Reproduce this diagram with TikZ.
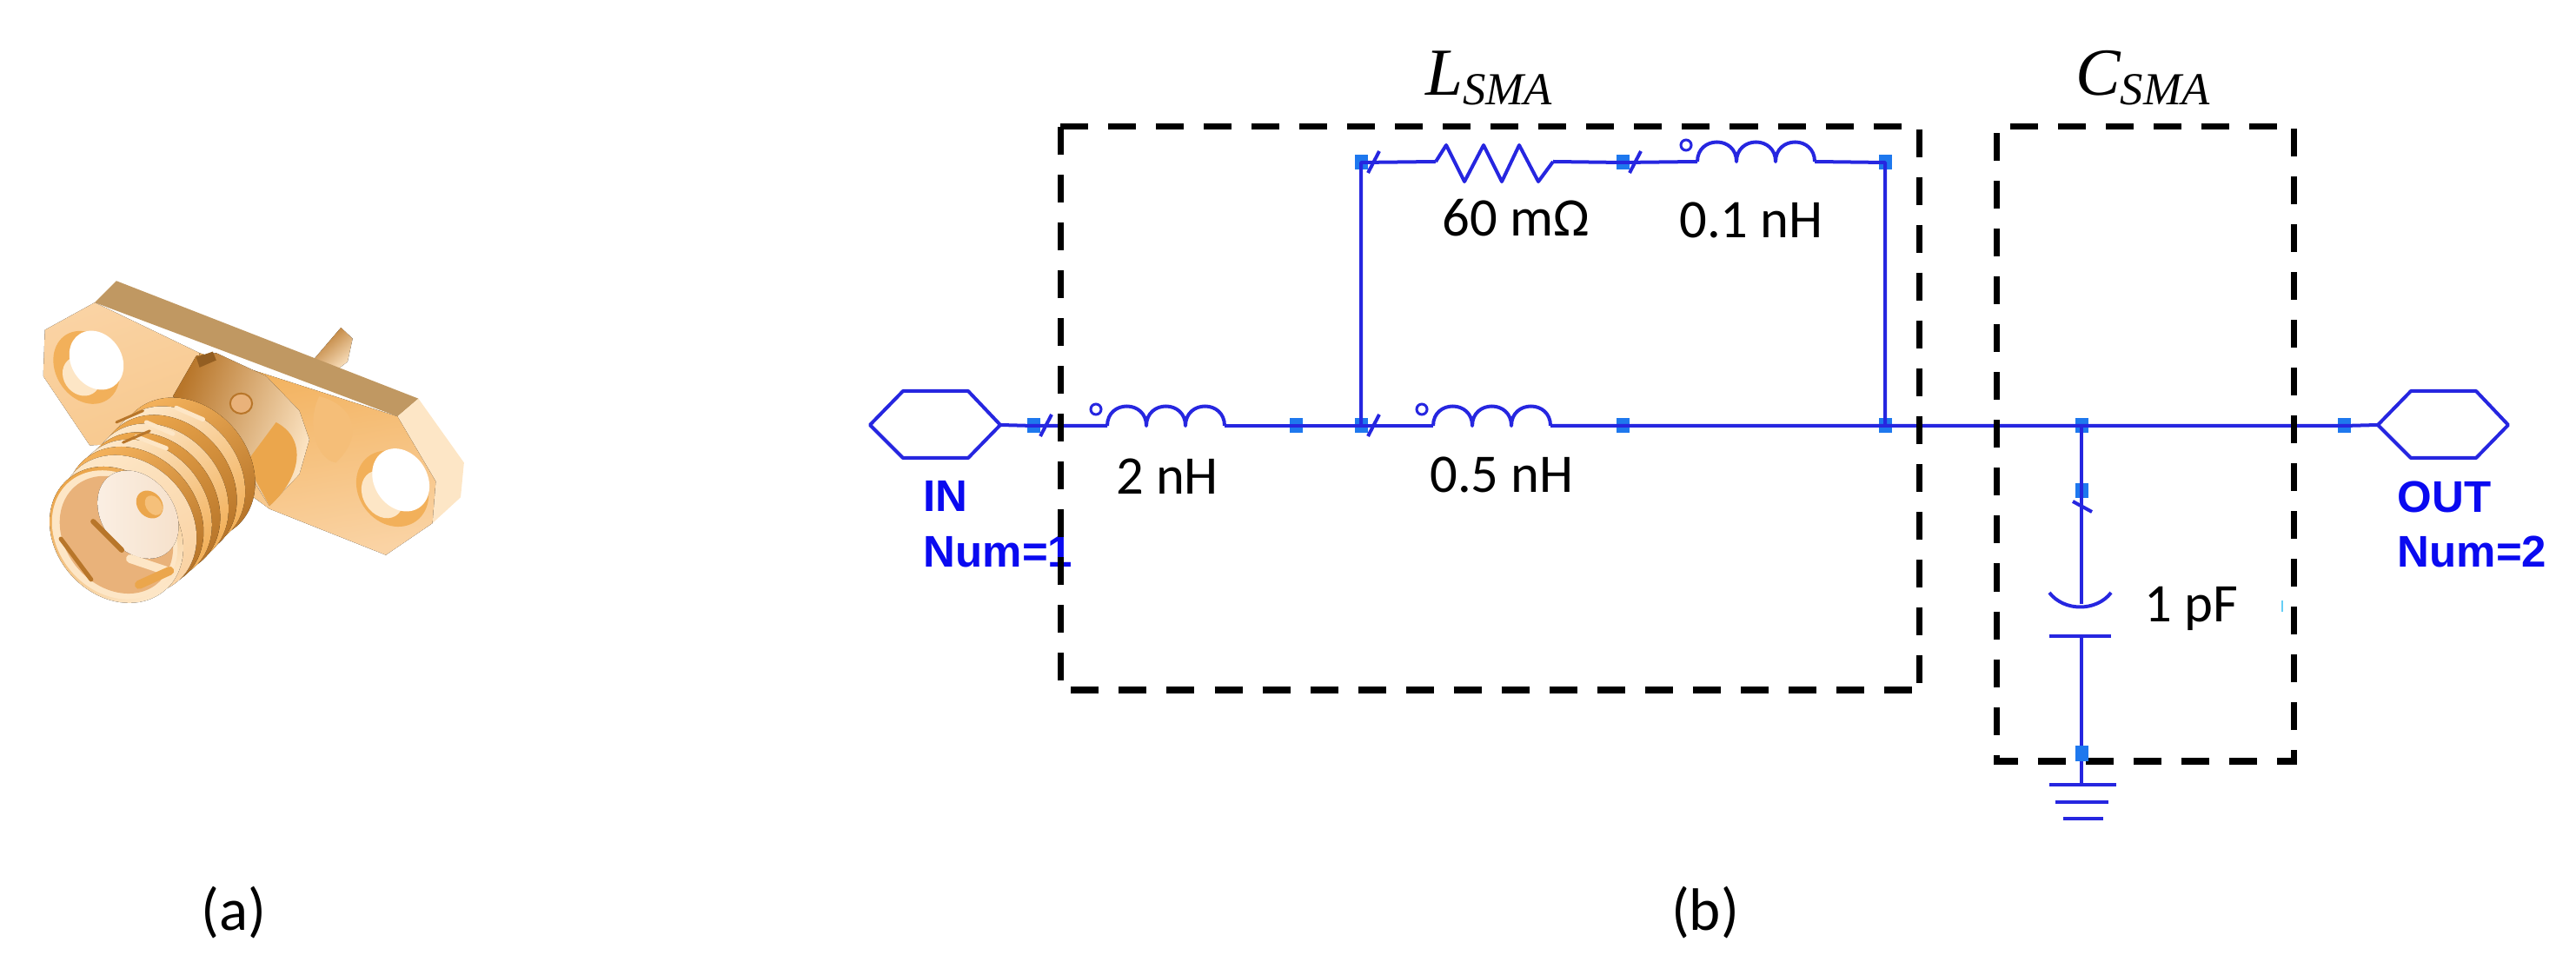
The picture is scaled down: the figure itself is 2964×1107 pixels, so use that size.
\documentclass[tikz,border=0pt]{standalone}
\usepackage{fontspec}
\setmainfont{Carlito}
\newfontfamily\portfont{Liberation Sans}
\newfontfamily\blockfont{Liberation Serif}
\newcommand{\blocksub}[1]{$_{\mbox{\blockfont\itshape\fontsize{15}{15}\selectfont #1}}$}
\definecolor{wireblue}{HTML}{2626E0}
\definecolor{pinblue}{HTML}{1E78EE}
\definecolor{portblue}{HTML}{0A0AF0}
\definecolor{goldA}{HTML}{FAD3A4}
\definecolor{goldB}{HTML}{C09862}
\definecolor{goldC}{HTML}{EBA64C}
\definecolor{goldD}{HTML}{B8762A}
\definecolor{goldE}{HTML}{FDE6C6}
\definecolor{goldF}{HTML}{F2B05A}
\definecolor{goldG}{HTML}{E9B27A}
\tikzset{
  wire/.style={draw=wireblue, line width=0.04cm, line join=round},
  pinbox/.style={fill=pinblue, minimum width=0.15cm, minimum height=0.17cm, inner sep=0pt},
  dashbox/.style={draw=black, line width=0.07cm, dash pattern=on 0.32cm off 0.23cm},
  valuetext/.style={font=\fontsize{17.8}{20}\selectfont, text=black},
  blocktext/.style={font=\blockfont\itshape\fontsize{22}{26}\selectfont},
  porttext/.style={font=\portfont\bfseries\fontsize{14.5}{18}\selectfont, text=portblue, anchor=north west, align=left, inner sep=0pt},
  captext/.style={font=\fontsize{19.6}{24}\selectfont},
  coil/.pic={
    \coordinate (-a) at (0,0);
    \coordinate (-b) at (135,0);
    \draw[wire] (0,0) .. controls (0,-30) and (45,-30) .. (45,0) .. controls (45,-30) and (90,-30) .. (90,0) .. controls (90,-30) and (135,-30) .. (135,0);
    \draw[wireblue, line width=0.03cm] (-13,-19) circle (6);
  },
  porthex/.pic={
    \coordinate (-west) at (-75,0);
    \coordinate (-east) at (75,0);
    \draw[wire] (-75,0) -- (-37,-39) -- (38,-39) -- (75,0) -- (38,38) -- (-37,38) -- cycle;
  }
}
\begin{document}
\begin{tikzpicture}[x=0.01cm, y=-0.01cm]
\useasboundingbox (0,0) rectangle (2964,1107);

% The connector photo, in its own scaled frame
\begin{scope}[shift={(0,300)}, xscale=0.3827, yscale=0.332]
% Pin behind the flange
\fill[left color=goldD, right color=goldE, shading angle=40] (945,340) -- (1025,232) -- (1060,270) -- (1045,350) -- (1000,390) -- cycle;
% Flange faces
\fill[goldB] (350,70) -- (1258,478) -- (1195,540) -- (285,145) -- cycle;
\fill[goldE] (1258,478) -- (1395,700) -- (1385,820) -- (1300,910) -- (1310,765) -- (1195,540) -- cycle;
\fill[left color=goldA, right color=goldA!70!goldF, shading angle=20] (285,145) -- (135,240) -- (130,400) -- (270,640) -- (600,620) -- (600,320) -- cycle;
\fill[left color=goldF, right color=goldA, shading angle=10] (600,320) -- (1195,540) -- (1310,765) -- (1300,910) -- (1160,1020) -- (810,860) -- (620,700) -- cycle;
\fill[goldF!60!goldA] (960,470) .. controls (1060,500) and (1100,600) .. (1010,700) .. controls (950,690) and (920,560) .. cycle;
% Flange holes
\fill[goldF, rotate around={20:(260,370)}] (260,370) ellipse (95 and 130);
\fill[goldE, rotate around={20:(245,400)}] (245,400) ellipse (55 and 70);
\fill[white, rotate around={20:(290,345)}] (290,345) ellipse (78 and 105);
\fill[goldF, rotate around={20:(1180,790)}] (1180,790) ellipse (105 and 135);
\fill[goldE, rotate around={20:(1150,810)}] (1150,810) ellipse (60 and 85);
\fill[white, rotate around={20:(1205,760)}] (1205,760) ellipse (82 and 112);
% Body behind the thread
\fill[left color=goldD, right color=goldE, shading angle=70] (590,330) -- (650,320) -- (800,400) -- (900,520) -- (930,620) -- (900,740) -- (810,850) -- (700,650) -- (520,470) -- cycle;
\fill[goldC] (830,560) .. controls (930,620) and (900,760) .. (810,850) -- (740,700) -- cycle;
\fill[goldD!80!black] (590,335) -- (640,315) -- (650,345) -- (600,370) -- cycle;
\fill[goldG, draw=goldD, line width=0.02cm] (725,495) ellipse (33 and 35);
% Thread, back to front
\fill[left color=goldF, right color=goldD, shading angle=35, rotate around={25:(560,720)}] (560,720) ellipse (195 and 255);
\fill[left color=goldE, right color=goldF, shading angle=35, rotate around={25:(530,750)}] (530,750) ellipse (195 and 255);
\fill[left color=goldC, right color=goldD, shading angle=35, rotate around={25:(505,780)}] (505,780) ellipse (195 and 255);
\fill[left color=goldE, right color=goldF, shading angle=35, rotate around={25:(480,810)}] (480,810) ellipse (195 and 255);
\fill[left color=goldC, right color=goldD, shading angle=35, rotate around={25:(455,840)}] (455,840) ellipse (195 and 255);
\fill[left color=goldE, right color=goldF, shading angle=35, rotate around={25:(430,865)}] (430,865) ellipse (195 and 255);
\fill[left color=goldF, right color=goldD, shading angle=35, rotate around={25:(405,890)}] (405,890) ellipse (195 and 255);
\fill[left color=goldE, right color=goldA, shading angle=35, rotate around={25:(385,915)}] (385,915) ellipse (195 and 250);
\fill[left color=goldC, right color=goldE, shading angle=35, rotate around={25:(350,950)}] (350,950) ellipse (190 and 245);
% Knurl marks on top of the thread
\draw[goldE, line width=0.05cm, line cap=round] (440,560) -- (520,600);
\draw[goldE, line width=0.05cm, line cap=round] (410,610) -- (500,650);
\draw[goldE, line width=0.05cm, line cap=round] (530,510) -- (610,550);
\draw[goldD, line width=0.03cm, line cap=round] (350,560) -- (430,520);
\draw[goldD, line width=0.03cm, line cap=round] (370,630) -- (450,590);
% Socket mouth
\fill[goldE, rotate around={25:(345,950)}] (345,950) ellipse (178 and 232);
\fill[goldG, rotate around={25:(350,950)}] (350,950) ellipse (160 and 212);
\fill[left color=white!80!goldG, right color=white!60!goldG, rotate around={25:(415,880)}] (415,880) ellipse (112 and 160);
\fill[goldC, rotate around={25:(450,845)}] (450,845) ellipse (38 and 50);
\fill[goldF!70!goldE, rotate around={25:(462,848)}] (462,848) ellipse (24 and 36);
\draw[goldD, line width=0.05cm, line cap=round] (183,964) -- (274,1105);
\draw[goldD, line width=0.06cm, line cap=round] (280,904) -- (366,1003);
\draw[goldE, line width=0.1cm, line cap=round] (392,1033) -- (500,1075);
\draw[goldC, line width=0.1cm, line cap=round] (418,1123) -- (510,1075);
\end{scope}

% Nodes on the schematic
\pic (inport) at (1076,489) {porthex};
\pic (outport) at (2811,489) {porthex};
\node[pinbox] (n1) at (1189,490) {};
\node[pinbox] (n2) at (1491,490) {};
\node[pinbox] (n3) at (1566,490) {};
\node[pinbox] (n4) at (1867,490) {};
\node[pinbox] (n5) at (2169,490) {};
\node[pinbox] (n6) at (2395,490) {};
\node[pinbox] (n7) at (2697,490) {};
\node[pinbox] (n8) at (1566,187) {};
\node[pinbox] (n9) at (1867,187) {};
\node[pinbox] (n10) at (2169,187) {};
\node[pinbox] (n11) at (2395,565) {};
\coordinate (n12) at (2395,867);
\coordinate (r1a) at (1652,186);
\coordinate (r1b) at (1787,186);
\coordinate (c1a) at (2395,695);
\coordinate (c1b) at (2395,732);
\coordinate (g1) at (2395,903);

% Coils
\pic (l1) at (1274,490) {coil};
\pic (l2) at (1649,490) {coil};
\pic (l3) at (1953,186) {coil};

% Wires
\draw[wire] (inport-east) -- (n1.center) -- (l1-a);
\draw[wire] (l1-b) -- (n2.center) -- (n3.center) -- (l2-a);
\draw[wire] (l2-b) -- (n4.center) -- (n5.center) -- (n6.center) -- (n7.center) -- (outport-west);
\draw[wire] (n3.center) -- (n8.center) -- (r1a);
\draw[wire] (r1a) -- (1664,167) -- (1685,209) -- (1707,167) -- (1728,209) -- (1748,167) -- (1770,209) -- (r1b);
\draw[wire] (r1b) -- (n9.center) -- (l3-a);
\draw[wire] (l3-b) -- (n10.center) -- (n5.center);
\draw[wire] (n6.center) -- (n11.center) -- (c1a);
\draw[wire] (c1b) -- (n12) -- (g1);

% Ticks on the pins
\draw[wire] (1197,502) -- (1210,477);
\draw[wire] (1574,502) -- (1587,477);
\draw[wire] (1574,199) -- (1587,174);
\draw[wire] (1875,199) -- (1888,174);
\draw[wire] (2385,577) -- (2407,589);

% Capacitor and ground
\draw[wire] (2358,682) .. controls (2375,704) and (2412,704) .. (2429,682);
\draw[wire] (2358,732) -- (2429,732);
\draw[wire] (2358,903) -- (2435,903);
\draw[wire] (2365,923) -- (2426,923);
\draw[wire] (2374,942) -- (2420,942);
\draw[cyan!60, line width=0.02cm] (2626,691) -- (2626,704);

% Texts
\node[porttext] (inlabel) at (1062,553) {IN\\Num=1};
\node[porttext] (outlabel) at (2758,553) {OUT\\Num=2};
\node[valuetext] (t1) at (1343,548) {2 nH};
\node[valuetext] (t2) at (1728,546) {0.5 nH};
\node[valuetext] (t3) at (1744,251) {60 mΩ};
\node[valuetext] (t4) at (2015,253) {0.1 nH};
\node[valuetext] (t5) at (2521,700) {1 pF};
\node[blocktext] (tl) at (1714,90) {L\blocksub{SMA}};
\node[blocktext] (tc) at (2466,90) {C\blocksub{SMA}};
\node[captext] (capa) at (269,1050) {(a)};
\node[captext] (capb) at (1962,1050) {(b)};

% Dashed blocks
\draw[dashbox] (1220,146) -- (1220,794) -- (2208,794);
\draw[dashbox] (1220,146) -- (2208,146) -- (2208,794);
\draw[dashbox, dash phase=0.36cm] (2639,146) -- (2297,146) -- (2297,876) -- (2639,876) -- cycle;

% Pin goes over the dashes
\node[pinbox] (n12b) at (n12) {};
\end{tikzpicture}
\end{document}
